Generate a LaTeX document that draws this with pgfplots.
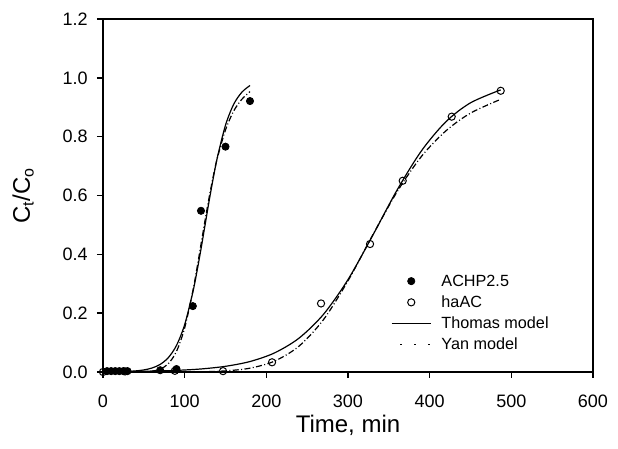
\documentclass[border=0pt]{standalone}
\usepackage{pgfplots}
\pgfplotsset{compat=1.18}
\usepackage{fontspec}
\setmainfont{Liberation Sans}
\begin{document}
\begin{tikzpicture}
\useasboundingbox (-51.5pt,-38.5pt) rectangle (257.5pt,186pt);
\begin{axis}[
  at={(0pt,0pt)}, anchor=south west,
  scale only axis, width=245pt, height=176.5pt,
  xmin=0, xmax=600, ymin=0, ymax=1.2,
  xtick={0,100,200,300,400,500,600},
  ytick={0,0.2,0.4,0.6,0.8,1.0,1.2},
  yticklabels={0.0,0.2,0.4,0.6,0.8,1.0,1.2},
  tick align=outside, tick pos=left,
  major tick length=3pt,
  axis line style={line width=0.8pt},
  every tick/.style={black, line width=0.8pt},
  /pgf/number format/assume math mode=true,
  tick label style={font=\fontsize{9}{11}\selectfont},
  xticklabel style={anchor=north, inner sep=0pt, yshift=-8.5pt},
  yticklabel style={anchor=east, inner sep=0pt, xshift=-4.5pt},
  xlabel={Time, min},
  ylabel={C\textsubscript{t}/C\textsubscript{o}},
  label style={font=\fontsize{12}{14}\selectfont},
  xlabel style={at={(axis description cs:0.5,-0.1728)}, anchor=base},
  ylabel style={at={(axis description cs:-0.149,0.5)}, anchor=base},
  legend style={at={(axis description cs:0.587,0.284)}, anchor=north west, draw=none, fill=none,
    inner sep=0pt, font=\fontsize{8.1}{9.7}\selectfont, row sep=1.6pt, column sep=5pt,
    nodes={inner sep=0pt, text height=7pt, text depth=2pt}},
  legend cell align=left,
]
% ACHP2.5 Thomas model
\addplot[black, line width=0.6pt, smooth, forget plot] coordinates {
(0,0.0003)(10,0.0005)(20,0.0010)(30,0.0019)(40,0.0037)(50,0.0070)(60,0.0135)(70,0.0258)(80,0.0488)(90,0.0903)(100,0.161)(110,0.271)(115,0.341)(120,0.418)(125,0.5)(130,0.582)(135,0.659)(140,0.729)(150,0.839)(160,0.910)(170,0.951)(180,0.974)};
% ACHP2.5 Yan model
\addplot[black, line width=0.6pt, smooth, dash pattern=on 3pt off 1.2pt on 0.5pt off 1.2pt, forget plot] coordinates {
(0,0)(20,0)(40,0.0001)(50,0.0007)(60,0.0028)(70,0.0098)(80,0.0282)(90,0.0699)(100,0.1496)(110,0.275)(115,0.352)(120,0.434)(125,0.516)(130,0.594)(135,0.665)(140,0.727)(150,0.823)(160,0.887)(170,0.927)(180,0.953)};
% haAC Thomas model
\addplot[black, line width=0.6pt, smooth, forget plot] coordinates {
(0,0.0008)(30,0.0016)(60,0.0030)(90,0.0055)(120,0.0103)(150,0.0193)(180,0.0356)(210,0.0648)(240,0.115)(270,0.196)(300,0.314)(330,0.463)(360,0.618)(390,0.752)(420,0.851)(450,0.915)(487,0.959)};
% haAC Yan model
\addplot[black, line width=0.6pt, smooth, dash pattern=on 3pt off 1.2pt on 0.5pt off 1.2pt, forget plot] coordinates {
(0,0)(60,0)(90,0.0001)(120,0.0008)(150,0.0038)(180,0.0130)(210,0.0369)(240,0.0878)(270,0.178)(300,0.310)(330,0.464)(360,0.612)(390,0.733)(420,0.820)(450,0.880)(487,0.927)};
% data
\addplot[only marks, mark=*, mark size=1.8pt, black,
  legend image code/.code={\fill[black] (0.345cm,0cm) circle (1.8pt);}] coordinates {
(5,0.003)(10,0.003)(15,0.003)(20,0.003)(25,0.003)(30,0.003)(70,0.006)(90,0.010)(110,0.224)(120,0.548)(150,0.766)(180,0.921)};
\addlegendentry{ACHP2.5}
\addplot[only marks, mark=o, mark size=1.8pt, black, mark options={fill=white, line width=0.5pt},
  legend image code/.code={\draw[black, fill=white, line width=0.5pt] (0.345cm,0cm) circle (1.8pt);}] coordinates {
(0,0.0)(27,0.002)(88,0.004)(147,0.003)(207,0.033)(267,0.233)(327,0.435)(367,0.650)(427,0.868)(487,0.956)};
\addlegendentry{haAC}
\addlegendimage{black, line width=0.6pt, legend image code/.code={\draw[black, line width=0.6pt] (0cm,0cm) -- (0.69cm,0cm);}}
\addlegendentry{Thomas model}
\addlegendimage{black, line width=0.6pt, legend image code/.code={\path[draw=none] (0cm,0cm) -- (0.69cm,0cm); \draw[black, line width=0.6pt, dash pattern=on 0.8pt off 6.2pt] (4.3pt,0cm) -- (19.5pt,0cm);}}
\addlegendentry{Yan model}
\end{axis}
\end{tikzpicture}
\end{document}
